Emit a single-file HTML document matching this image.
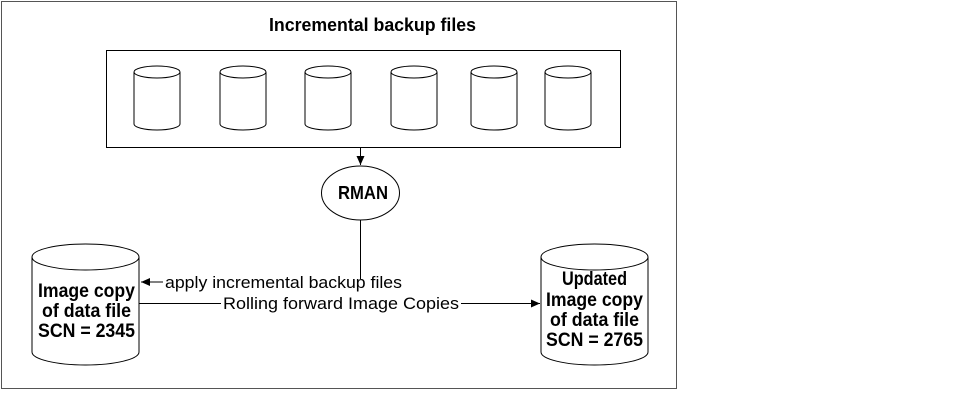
<!DOCTYPE html>
<html><head><style>
html,body{margin:0;padding:0;background:#fff;}
svg{display:block;}
text{font-family:"Liberation Sans",Arial,sans-serif;}
</style></head><body>
<svg width="975" height="410" viewBox="0 0 975 410" xmlns="http://www.w3.org/2000/svg">
<defs>
<marker id="ah" markerWidth="10" markerHeight="8" refX="9" refY="4" orient="auto" markerUnits="userSpaceOnUse">
<path d="M0,0 L9,4 L0,8 z" fill="#000"/>
</marker>
<g id="cyl">
<path d="M-23,-26 L-23,26 A23,6 0 0 0 23,26 L23,-26" fill="#fff" stroke="#000" stroke-width="1"/>
<ellipse cx="0" cy="-26" rx="23" ry="6" fill="#fff" stroke="#000" stroke-width="1"/>
</g>
</defs>
<rect x="1.5" y="1.5" width="675" height="387" fill="#fff" stroke="#555" stroke-width="1"/>
<text x="269" y="31" font-size="18" font-weight="bold" textLength="207" lengthAdjust="spacingAndGlyphs">Incremental backup files</text>
<rect x="106.5" y="50.5" width="514" height="97" fill="#fff" stroke="#000"/>
<use href="#cyl" x="157" y="98"/>
<use href="#cyl" x="243" y="98"/>
<use href="#cyl" x="328" y="98"/>
<use href="#cyl" x="414" y="98"/>
<use href="#cyl" x="494" y="98"/>
<use href="#cyl" x="568" y="98"/>
<line x1="360.5" y1="147" x2="360.5" y2="165" stroke="#000" marker-end="url(#ah)"/>
<ellipse cx="360.5" cy="193" rx="39" ry="27" fill="#fff" stroke="#000"/>
<text x="338" y="199" font-size="18" font-weight="bold" textLength="50" lengthAdjust="spacingAndGlyphs">RMAN</text>
<line x1="360.5" y1="220" x2="360.5" y2="279" stroke="#000"/>
<line x1="163" y1="282" x2="141" y2="282" stroke="#000" marker-end="url(#ah)"/>
<text x="165" y="288" font-size="17" textLength="237" lengthAdjust="spacingAndGlyphs">apply incremental backup files</text>
<path d="M32,257 L32,352 A53.5,13 0 0 0 139,352 L139,257" fill="#fff" stroke="#000"/>
<ellipse cx="85.5" cy="257" rx="53.5" ry="13" fill="#fff" stroke="#000"/>
<g font-size="19" font-weight="bold">
<text x="38" y="297" textLength="97" lengthAdjust="spacingAndGlyphs">Image copy</text>
<text x="42" y="317" textLength="89" lengthAdjust="spacingAndGlyphs">of data file</text>
<text x="38" y="337" textLength="97" lengthAdjust="spacingAndGlyphs">SCN = 2345</text>
</g>
<line x1="139" y1="303.5" x2="221" y2="303.5" stroke="#000"/>
<text x="223" y="309" font-size="17" textLength="236" lengthAdjust="spacingAndGlyphs">Rolling forward  Image Copies</text>
<line x1="461" y1="303.5" x2="540" y2="303.5" stroke="#000" marker-end="url(#ah)"/>
<path d="M541,257 L541,352 A53.5,13 0 0 0 648,352 L648,257" fill="#fff" stroke="#000"/>
<ellipse cx="594.5" cy="257" rx="53.5" ry="13" fill="#fff" stroke="#000"/>
<g font-size="19" font-weight="bold">
<text x="562" y="285" textLength="65" lengthAdjust="spacingAndGlyphs">Updated</text>
<text x="546" y="306" textLength="97" lengthAdjust="spacingAndGlyphs">Image copy</text>
<text x="550" y="326" textLength="89" lengthAdjust="spacingAndGlyphs">of data file</text>
<text x="546" y="346" textLength="97" lengthAdjust="spacingAndGlyphs">SCN = 2765</text>
</g>
</svg>
</body></html>
